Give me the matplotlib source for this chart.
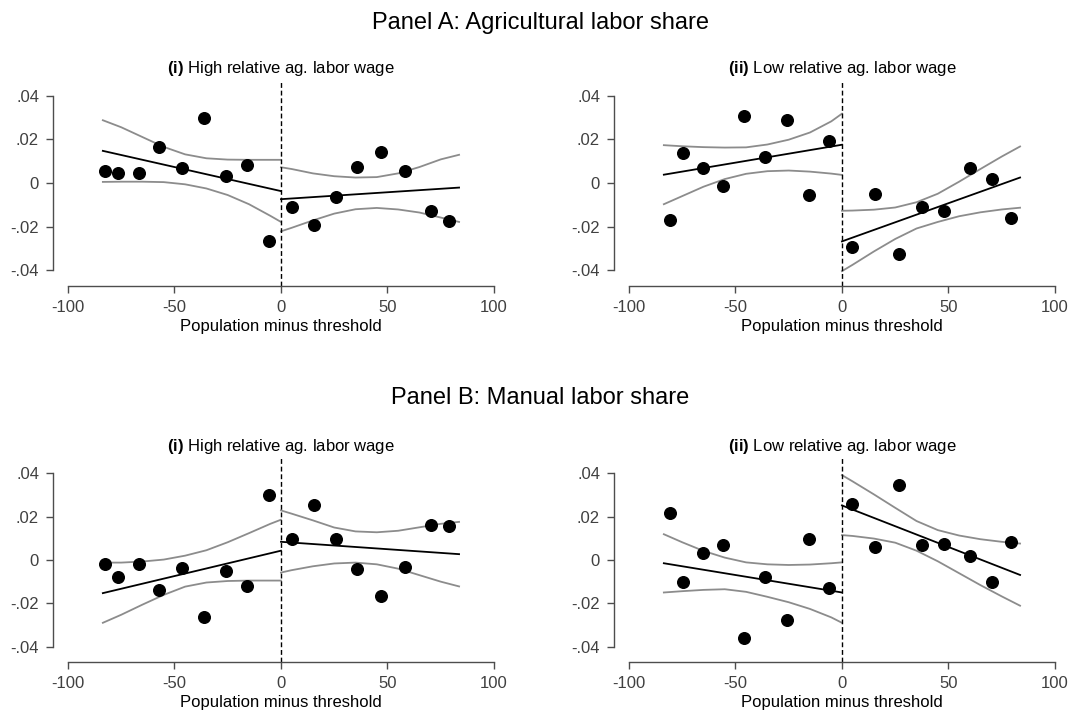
import matplotlib
matplotlib.use("Agg")
import matplotlib.pyplot as plt

plt.rcParams['font.family'] = ['Liberation Sans', 'DejaVu Sans']
plt.rcParams['mathtext.fontset'] = 'custom'
plt.rcParams['mathtext.rm'] = 'Liberation Sans'
plt.rcParams['mathtext.bf'] = 'Liberation Sans:bold'

W, H = 1088, 713

# bin midpoints (same in both panels for a given column)
x_high = [-82.8, -76.7, -66.4, -57.2, -46.3, -35.9, -25.9, -15.8, -5.5,
          5.3, 15.5, 25.8, 35.9, 46.9, 58.4, 70.3, 78.9]
x_low = [-80.9, -74.5, -65.2, -55.8, -46.1, -35.9, -25.9, -15.6, -6.1,
         4.7, 15.6, 26.6, 37.5, 48.1, 60.0, 70.6, 79.5]

# binned means
a_high_y = [0.0055, 0.0048, 0.0048, 0.0166, 0.0067, 0.0297, 0.0031, 0.0083, -0.0264,
            -0.0110, -0.0190, -0.0064, 0.0075, 0.0143, 0.0055, -0.0129, -0.0175]
a_low_y = [-0.0167, 0.0135, 0.0067, -0.0014, 0.0305, 0.0120, 0.0290, -0.0057, 0.0193,
           -0.0293, -0.0049, -0.0323, -0.0109, -0.0126, 0.0067, 0.0017, -0.0159]
b_high_y = [-0.0020, -0.0078, -0.0020, -0.0137, -0.0035, -0.0263, -0.0049, -0.0122, 0.0302,
            0.0098, 0.0252, 0.0098, -0.0043, -0.0168, -0.0034, 0.0163, 0.0156]
b_low_y = [0.0217, -0.0102, 0.0031, 0.0067, -0.0359, -0.0078, -0.0278, 0.0098, -0.0130,
           0.0260, 0.0061, 0.0347, 0.0067, 0.0073, 0.0017, -0.0102, 0.0082]

# linear fits, endpoints
fit_x_left = [-83.6, 0]
fit_x_right = [0, 83.6]
a_high_fit_l = [0.0147, -0.0037]
a_high_fit_r = [-0.0074, -0.0021]
a_low_fit_l = [0.0038, 0.0175]
a_low_fit_r = [-0.0267, 0.0025]
b_high_fit_l = [-0.0153, 0.0043]
b_high_fit_r = [0.0084, 0.0027]
b_low_fit_l = [-0.0015, -0.0150]
b_low_fit_r = [0.0252, -0.0069]

# confidence bands read on a grid
ci_x_left = [-83.6, -75, -65, -55, -45, -35, -25, -15, -5, 0]
ci_x_right = [0, 5, 15, 25, 35, 45, 55, 65, 75, 83.6]

a_high_up_l = [0.0287, 0.0255, 0.0210, 0.0165, 0.0131, 0.0113, 0.0107, 0.0106, 0.0106, 0.0106]
a_high_lo_l = [0.0005, 0.0006, 0.0006, 0.0004, -0.0006, -0.0025, -0.0055, -0.0097, -0.0150, -0.0178]
a_high_up_r = [0.0072, 0.0064, 0.0044, 0.0031, 0.0025, 0.0027, 0.0044, 0.0073, 0.0108, 0.0129]
a_high_lo_r = [-0.0221, -0.0205, -0.0171, -0.0140, -0.0120, -0.0114, -0.0121, -0.0135, -0.0158, -0.0178]

a_low_up_l = [0.0173, 0.0168, 0.0164, 0.0162, 0.0163, 0.0176, 0.0198, 0.0231, 0.0282, 0.0317]
a_low_lo_l = [-0.0097, -0.0060, -0.0017, 0.0018, 0.0042, 0.0054, 0.0057, 0.0052, 0.0043, 0.0037]
a_low_up_r = [-0.0127, -0.0126, -0.0122, -0.0112, -0.0088, -0.0049, 0.0006, 0.0064, 0.0121, 0.0167]
a_low_lo_r = [-0.0403, -0.0374, -0.0313, -0.0256, -0.0208, -0.0178, -0.0152, -0.0134, -0.0121, -0.0113]

b_high_up_l = [-0.0012, -0.0012, -0.0007, 0.0002, 0.0020, 0.0045, 0.0082, 0.0124, 0.0167, 0.0186]
b_high_lo_l = [-0.0290, -0.0253, -0.0206, -0.0161, -0.0123, -0.0104, -0.0097, -0.0095, -0.0095, -0.0095]
b_high_up_r = [0.0229, 0.0214, 0.0183, 0.0150, 0.0132, 0.0128, 0.0135, 0.0151, 0.0167, 0.0176]
b_high_lo_r = [-0.0058, -0.0047, -0.0029, -0.0016, -0.0012, -0.0020, -0.0040, -0.0070, -0.0100, -0.0122]

b_low_up_l = [0.0119, 0.0082, 0.0042, 0.0011, -0.0011, -0.0020, -0.0023, -0.0021, -0.0015, -0.0011]
b_low_lo_l = [-0.0150, -0.0144, -0.0138, -0.0135, -0.0147, -0.0170, -0.0195, -0.0226, -0.0265, -0.0290]
b_low_up_r = [0.0392, 0.0363, 0.0303, 0.0241, 0.0180, 0.0138, 0.0113, 0.0096, 0.0084, 0.0076]
b_low_lo_r = [0.0115, 0.0111, 0.0099, 0.0080, 0.0043, -0.0006, -0.0061, -0.0116, -0.0168, -0.0211]

y_ticks = [-0.04, -0.02, 0, 0.02, 0.04]
y_ticklabels = ["-.04", "-.02", "0", ".02", ".04"]
x_ticks = [-100, -50, 0, 50, 100]
x_ticklabels = ["-100", "-50", "0", "50", "100"]

AXIS_GRAY = "#4d4d4d"
CI_GRAY = "#8c8c8c"


def px_box(left, top, right, bottom):
    return [left / W, 1 - bottom / H, (right - left) / W, (bottom - top) / H]


def draw_panel(ax, x, y, fit_l, fit_r, up_l, lo_l, up_r, lo_r, subtitle):
    ax.set_xlim(-107, 100)
    ax.set_ylim(-0.0471, 0.0471)

    for band in (up_l, lo_l):
        ax.plot(ci_x_left, band, color=CI_GRAY, lw=1.3)
    for band in (up_r, lo_r):
        ax.plot(ci_x_right, band, color=CI_GRAY, lw=1.3)
    ax.plot(fit_x_left, fit_l, color="black", lw=1.3)
    ax.plot(fit_x_right, fit_r, color="black", lw=1.3)
    ax.scatter(x, y, s=70, color="black", zorder=3)
    ax.axvline(0, color="black", lw=1.0, ls=(0, (3.5, 2)))

    for side in ("top", "right"):
        ax.spines[side].set_visible(False)
    ax.spines["left"].set_bounds(-0.04, 0.04)
    ax.spines["bottom"].set_bounds(-100, 100)
    for side in ("left", "bottom"):
        ax.spines[side].set_color(AXIS_GRAY)
        ax.spines[side].set_linewidth(1.0)

    ax.set_yticks(y_ticks)
    ax.set_yticklabels(y_ticklabels)
    ax.set_xticks(x_ticks)
    ax.set_xticklabels(x_ticklabels)
    ax.tick_params(axis="both", direction="out", length=5, width=1.0,
                   color=AXIS_GRAY, labelcolor="#404040", labelsize=12, pad=5)

    ax.set_xlabel("Population minus threshold", fontsize=12)
    ax.xaxis.set_label_coords(107 / 207, -0.16)
    ax.annotate(subtitle, xy=(0, 1), xycoords=("data", "axes fraction"),
                xytext=(0, 8), textcoords="offset points",
                ha="center", va="center", fontsize=12)


fig = plt.figure(figsize=(W / 100, H / 100), dpi=100)

ax1 = fig.add_axes(px_box(53, 80, 494, 286))
ax2 = fig.add_axes(px_box(614, 80, 1055, 286))
ax3 = fig.add_axes(px_box(53, 458, 494, 662))
ax4 = fig.add_axes(px_box(614, 458, 1055, 662))

sub_i = r"$\mathbf{(i)}$ High relative ag. labor wage"
sub_ii = r"$\mathbf{(ii)}$ Low relative ag. labor wage"

draw_panel(ax1, x_high, a_high_y, a_high_fit_l, a_high_fit_r,
           a_high_up_l, a_high_lo_l, a_high_up_r, a_high_lo_r, sub_i)
draw_panel(ax2, x_low, a_low_y, a_low_fit_l, a_low_fit_r,
           a_low_up_l, a_low_lo_l, a_low_up_r, a_low_lo_r, sub_ii)
draw_panel(ax3, x_high, b_high_y, b_high_fit_l, b_high_fit_r,
           b_high_up_l, b_high_lo_l, b_high_up_r, b_high_lo_r, sub_i)
draw_panel(ax4, x_low, b_low_y, b_low_fit_l, b_low_fit_r,
           b_low_up_l, b_low_lo_l, b_low_up_r, b_low_lo_r, sub_ii)

fig.text(540 / W, 1 - 23 / H, "Panel A: Agricultural labor share",
         ha="center", va="center", fontsize=17)
fig.text(540 / W, 1 - 398 / H, "Panel B: Manual labor share",
         ha="center", va="center", fontsize=17)

fig.savefig("out.png", dpi=100)
